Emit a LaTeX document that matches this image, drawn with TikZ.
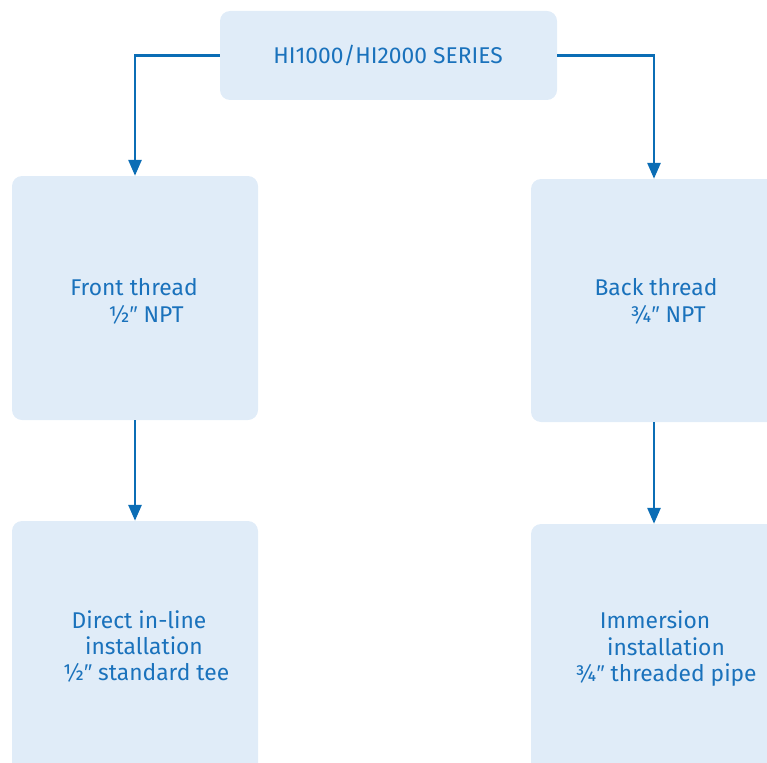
\documentclass[tikz,border=0pt]{standalone}
\usepackage{fontspec}
\setmainfont{Fira Sans}
\newfontfamily\primefont{Liberation Sans}
\newcommand{\dprime}{{\primefont ″}}
\usetikzlibrary{arrows.meta}
\definecolor{boxfill}{HTML}{E0ECF8}
\definecolor{lineblue}{HTML}{0B6DB5}
\definecolor{textblue}{HTML}{1A72BC}
\begin{document}
\begin{tikzpicture}[x=1pt,y=-1pt,
  box/.style={fill=boxfill,rounded corners=10pt},
  lbl/.style={inner sep=0pt,text=textblue,font=\fontsize{22.8}{27}\selectfont,anchor=base},
  conn/.style={draw=lineblue,line width=2.8pt,-{Triangle[length=16pt,width=13pt]}}]
\useasboundingbox (0,0) rectangle (767,762);
\clip (0,0) rectangle (767,762);
% boxes
\fill[box] (220,11) rectangle (557,100);
\fill[box] (12,176) rectangle (258,420);
\fill[box] (531,179) rectangle (790,422);
\fill[box] (12,521) rectangle (258,790);
\fill[box] (531,524) rectangle (790,790);
\node (top) at (388.5,55.5) [minimum width=337pt,minimum height=89pt,inner sep=0pt] {};
\node (ft) at (135,298) [minimum width=246pt,minimum height=244pt,inner sep=0pt] {};
\node (bt) at (654,300.5) [minimum width=246pt,minimum height=243pt,inner sep=0pt] {};
\node (dl) at (135,640) [minimum width=246pt,minimum height=238pt,inner sep=0pt] {};
\node (im) at (654,643) [minimum width=246pt,minimum height=238pt,inner sep=0pt] {};
% texts
\node[lbl] (t0) at (388,64) {HI1000/HI2000 SERIES};
\node[lbl] (t1) at (134,295) {Front thread};
\node[lbl] (t2) at (146,322) {½\dprime\ NPT};
\node[lbl] (t3) at (656,295) {Back thread};
\node[lbl] (t4) at (668,322) {¾\dprime\ NPT};
\node[lbl] (t5) at (139,628) {Direct in-line};
\node[lbl] (t6) at (144,654) {installation};
\node[lbl] (t7) at (146,680) {½\dprime\ standard tee};
\node[lbl] (t8) at (655,628) {Immersion};
\node[lbl] (t9) at (666,655) {installation};
\node[lbl] (t10) at (666,681) {¾\dprime\ threaded pipe};
% connectors
\draw[conn] (top.west) -| (ft.north);
\draw[conn] (top.east) -| (bt.north);
\draw[conn] (ft.south) -- (dl.north);
\draw[conn] (bt.south) -- (im.north);
\end{tikzpicture}
\end{document}
